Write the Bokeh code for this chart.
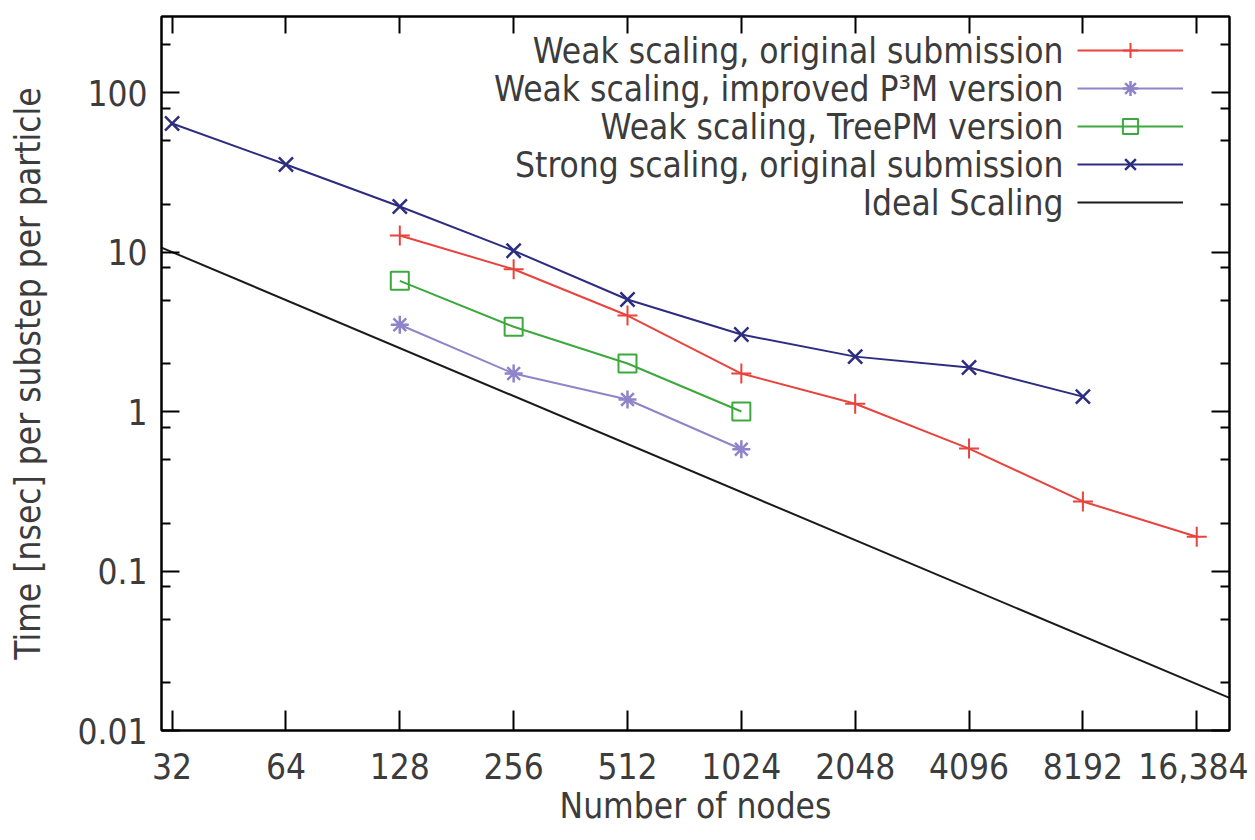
from bokeh.plotting import figure
from bokeh.models import (LogAxis, FixedTicker, Label, Legend, LegendItem,
                          CustomJSTickFormatter, Range1d)
from bokeh.embed import file_html
from bokeh.resources import INLINE

# ---------------- data ----------------
nodes_weak_orig = [128, 256, 512, 1024, 2048, 4096, 8192, 16384]
time_weak_orig = [12.7, 7.8, 4.0, 1.73, 1.12, 0.586, 0.273, 0.164]

nodes_p3m = [128, 256, 512, 1024]
time_p3m = [3.5, 1.73, 1.19, 0.58]

nodes_treepm = [128, 256, 512, 1024]
time_treepm = [6.6, 3.4, 2.0, 1.0]

nodes_strong = [32, 64, 128, 256, 512, 1024, 2048, 4096, 8192]
time_strong = [64.0, 35.4, 19.3, 10.2, 5.04, 3.04, 2.21, 1.89, 1.24]

# ideal scaling: time * nodes = constant
ideal_nodes = [30, 20000]
ideal_const = 320.0
ideal_time = [ideal_const / n for n in ideal_nodes]

x_ticks = [32, 64, 128, 256, 512, 1024, 2048, 4096, 8192, 16384]
x_tick_labels = ["32", "64", "128", "256", "512", "1024", "2048", "4096", "8192", "16,384"]
y_ticks = [0.01, 0.1, 1, 10, 100]
y_tick_labels = ["0.01", "0.1", "1", "10", "100"]
y_minor_mult = [2, 5, 8]
y_minor = [m * 10.0 ** k for k in range(-2, 3) for m in y_minor_mult]

legend_labels = [
    "Weak scaling, original submission",
    "Weak scaling, improved P\u00b3M version",
    "Weak scaling, TreePM version",
    "Strong scaling, original submission",
    "Ideal Scaling",
]

# ---------------- style ----------------
FONT = "DejaVu Sans Condensed"
FSIZE = "35px"
TXT = "#3c3c3c"
C_RED = "#e8433d"
C_PURPLE = "#8f84c9"
C_GREEN = "#3da83d"
C_NAVY = "#2c2c80"
C_BLACK = "#1a1a1a"

p = figure(width=1248, height=840, x_axis_type="log", y_axis_type="log",
           x_range=Range1d(30, 20000), y_range=Range1d(0.01, 300),
           output_backend="svg", toolbar_location=None,
           min_border_left=161, min_border_right=19,
           min_border_top=16, min_border_bottom=110)
p.grid.visible = False
p.outline_line_color = "black"
p.outline_line_width = 2
p.background_fill_color = "white"
p.border_fill_color = "white"


def fmt(ticks, labels):
    return CustomJSTickFormatter(args=dict(t=ticks, l=labels), code="""
        for (let i = 0; i < t.length; i++) {
            if (Math.abs(Math.log10(tick) - Math.log10(t[i])) < 1e-6) return l[i];
        }
        return '';
    """)


empty_fmt = CustomJSTickFormatter(code="return '';")

xa = p.xaxis[0]
xa.ticker = FixedTicker(ticks=x_ticks, minor_ticks=[])
xa.formatter = fmt(x_ticks, x_tick_labels)
xa.axis_label = "Number of nodes"

ya = p.yaxis[0]
ya.ticker = FixedTicker(ticks=y_ticks, minor_ticks=y_minor)
ya.formatter = fmt(y_ticks, y_tick_labels)
ya.axis_label = "Time [nsec] per substep per particle"

for ax in (xa, ya):
    ax.axis_line_color = "black"
    ax.axis_line_width = 2
    ax.major_tick_line_color = "black"
    ax.minor_tick_line_color = "black"
    ax.major_tick_line_width = 2
    ax.minor_tick_line_width = 2
    ax.major_tick_out = 0
    ax.minor_tick_out = 0
    ax.major_label_text_font = FONT
    ax.major_label_text_font_size = FSIZE
    ax.major_label_text_color = TXT
    ax.axis_label_text_font = FONT
    ax.axis_label_text_font_size = FSIZE
    ax.axis_label_text_color = TXT
    ax.axis_label_text_font_style = "normal"

xa.major_tick_in = 20
xa.minor_tick_in = 0
xa.major_label_standoff = 22
xa.axis_label_standoff = 4
ya.major_tick_in = 18
ya.minor_tick_in = 9
ya.major_label_standoff = 14
ya.axis_label_standoff = 26

# mirrored axes (ticks only)
top = LogAxis(ticker=FixedTicker(ticks=x_ticks, minor_ticks=[]), formatter=empty_fmt)
right = LogAxis(ticker=FixedTicker(ticks=y_ticks, minor_ticks=y_minor), formatter=empty_fmt)
for ax, tin, mtin in ((top, 17, 0), (right, 18, 9)):
    ax.axis_line_color = "black"
    ax.axis_line_width = 2
    ax.major_tick_line_color = "black"
    ax.minor_tick_line_color = "black"
    ax.major_tick_line_width = 2
    ax.minor_tick_line_width = 2
    ax.major_tick_in = tin
    ax.major_tick_out = 0
    ax.minor_tick_in = mtin
    ax.minor_tick_out = 0
    ax.major_label_standoff = 0
    ax.major_label_text_font_size = "1px"
p.add_layout(top, "above")
p.add_layout(right, "right")

# ---------------- series ----------------
l1 = p.line(nodes_weak_orig, time_weak_orig, line_color=C_RED, line_width=2)
m1 = p.scatter(nodes_weak_orig, time_weak_orig, marker="cross", size=20,
               line_color=C_RED, line_width=2)

l2 = p.line(nodes_p3m, time_p3m, line_color=C_PURPLE, line_width=2)
m2 = p.scatter(nodes_p3m, time_p3m, marker="asterisk", size=18,
               line_color=C_PURPLE, line_width=2.5)

l3 = p.line(nodes_treepm, time_treepm, line_color=C_GREEN, line_width=2)
m3 = p.scatter(nodes_treepm, time_treepm, marker="square", size=18,
               line_color=C_GREEN, fill_color="white", fill_alpha=0, line_width=2)

l4 = p.line(nodes_strong, time_strong, line_color=C_NAVY, line_width=2)
m4 = p.scatter(nodes_strong, time_strong, marker="x", size=20,
               line_color=C_NAVY, line_width=2.5)

l5 = p.line(ideal_nodes, ideal_time, line_color=C_BLACK, line_width=2)

# ---------------- legend (text left, sample right, gnuplot style) ----------------
row_h = 38
legend = Legend(items=[
    LegendItem(label=" ", renderers=[l1, m1]),
    LegendItem(label=" ", renderers=[l2, m2]),
    LegendItem(label=" ", renderers=[l3, m3]),
    LegendItem(label=" ", renderers=[l4, m4]),
    LegendItem(label=" ", renderers=[l5]),
], location=(916, 509), orientation="vertical",
    glyph_width=106, glyph_height=row_h, spacing=0, padding=0, margin=0,
    label_width=0, label_standoff=0, label_height=row_h,
    label_text_font_size="1px",
    border_line_color=None, background_fill_alpha=0)
p.add_layout(legend)

first_row_y = 680
for i, txt in enumerate(legend_labels):
    p.add_layout(Label(x=902, y=first_row_y - i * row_h, x_units="screen", y_units="screen",
                       text=txt, text_align="right", text_baseline="middle",
                       text_font=FONT, text_font_size=FSIZE, text_color=TXT))

open("out.html", "w").write(file_html(p, INLINE))
